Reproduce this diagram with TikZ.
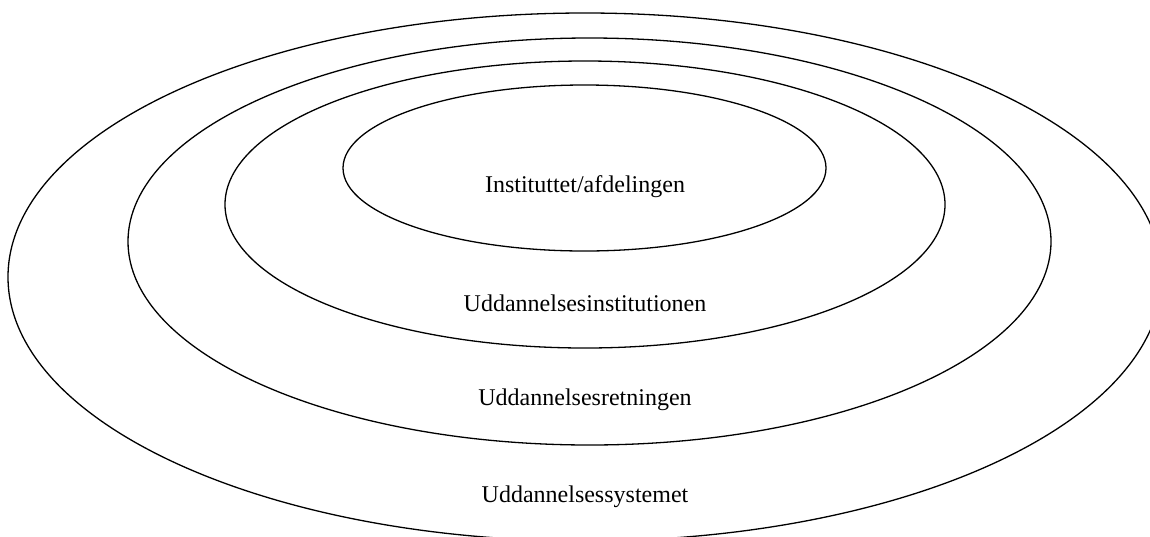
\documentclass[tikz,border=0pt]{standalone}
\usepackage{fontspec}
\setmainfont{Liberation Serif}
\usetikzlibrary{shapes.geometric}
\begin{document}
\begin{tikzpicture}[x=1pt,y=-1pt,
  ring/.style={draw=black, line width=1.3pt, ellipse, inner sep=0pt, fill=none},
  lbl/.style={anchor=base, font=\fontsize{24}{28}\selectfont, inner sep=0pt}]
\clip (0,0) rectangle (1150,536);
\node[ring, minimum width=1154pt, minimum height=528pt] (sys) at (585,277) {};
\node[ring, minimum width=923pt, minimum height=407pt] (ret) at (589.5,241.5) {};
\node[ring, minimum width=720pt, minimum height=287pt] (inst) at (585,204.5) {};
\node[ring, minimum width=483pt, minimum height=166pt] (afd) at (584.5,168) {};
\node[lbl] (t1) at (585,192) {Instituttet/afdelingen};
\node[lbl] (t2) at (585,311) {Uddannelsesinstitutionen};
\node[lbl] (t3) at (585,405) {Uddannelsesretningen};
\node[lbl] (t4) at (585,502) {Uddannelsessystemet};
\end{tikzpicture}
\end{document}
